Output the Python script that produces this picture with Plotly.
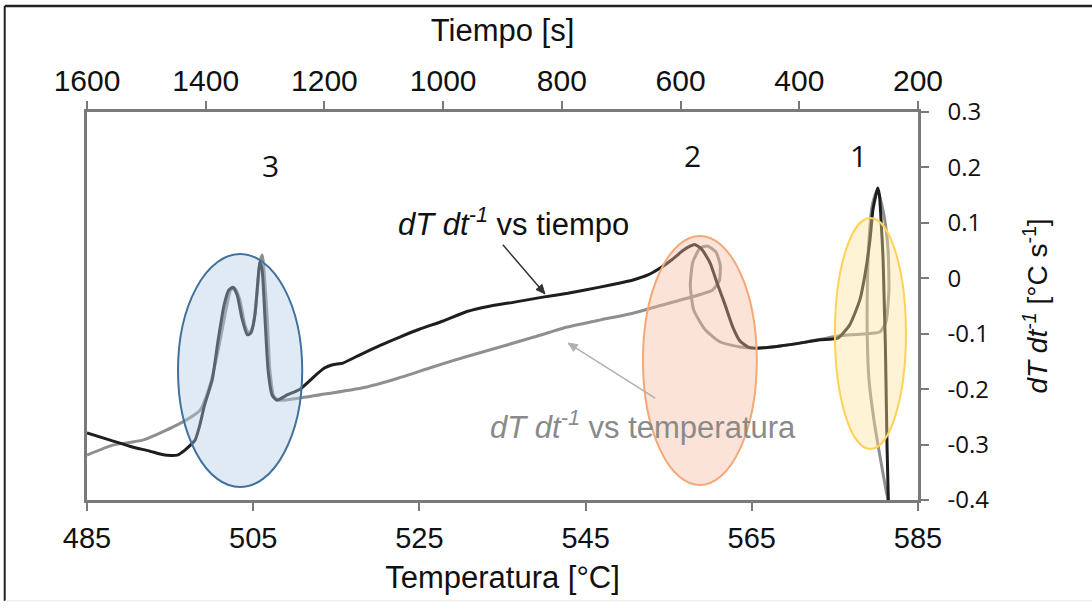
import plotly.graph_objects as go

# dT/dt vs time (s) -- black curve, top axis
time_s = [1600, 1561, 1528, 1494, 1469, 1448, 1435, 1418, 1410, 1402, 1389, 1379, 1369,
          1361, 1354, 1347, 1339, 1330, 1324, 1317, 1312, 1309, 1305, 1300, 1295, 1288,
          1280, 1262, 1241, 1215, 1200, 1186, 1169, 1140, 1106, 1073, 1040, 1000, 960,
          920, 880, 832, 790, 736, 700, 680, 655, 635, 614, 596, 584, 576, 564, 550, 539,
          525, 512, 500, 486, 471, 432, 399, 365, 335, 315, 298, 288, 281, 276, 271, 268,
          265, 262, 259, 257, 255, 254, 252, 250]
rate_time = [-0.279, -0.292, -0.303, -0.312, -0.319, -0.319, -0.310, -0.292, -0.265, -0.229,
             -0.183, -0.111, -0.048, -0.021, -0.016, -0.030, -0.072, -0.102, -0.099, -0.066,
             -0.003, 0.029, 0.015, -0.075, -0.165, -0.211, -0.220, -0.210, -0.200, -0.175,
             -0.162, -0.156, -0.153, -0.138, -0.121, -0.106, -0.092, -0.077, -0.060, -0.050,
             -0.043, -0.034, -0.027, -0.016, -0.008, -0.003, 0.006, 0.018, 0.034, 0.050,
             0.058, 0.061, 0.052, 0.027, -0.007, -0.048, -0.088, -0.113, -0.124, -0.126,
             -0.122, -0.117, -0.111, -0.108, -0.084, -0.039, 0.015, 0.069, 0.123, 0.150,
             0.163, 0.150, 0.100, 0.040, -0.039, -0.120, -0.183, -0.310, -0.400]

# dT/dt vs temperature (°C) -- grey curve, bottom axis
temp_c = [485.0, 488.1, 491.7, 495.8, 498.6, 499.8, 500.8, 501.6, 502.3, 502.8, 503.4, 504.0,
          504.5, 505.0, 505.5, 505.8, 506.1, 506.3, 506.7, 507.0, 507.5, 508.2, 510.6, 514.0,
          518.7, 522.5, 526.6, 530.5, 534.7, 538.8, 542.8, 546.8, 550.7, 554.0, 557.2, 560.3,
          561.1, 561.2, 560.7, 559.7, 558.8, 557.9, 557.6, 558.0, 559.4, 561.2, 563.6, 565.6,
          568.4, 570.8, 575.4, 578.0, 580.4, 581.15, 581.5, 581.4, 580.9, 580.3, 580.0, 579.5,
          579.1, 578.9, 578.9, 579.1, 579.7, 580.4, 581.15, 581.4]
rate_temp = [-0.319, -0.301, -0.292, -0.265, -0.238, -0.193, -0.129, -0.066, -0.021, -0.018,
             -0.039, -0.084, -0.101, -0.084, -0.021, 0.029, 0.042, 0.015, -0.075, -0.165,
             -0.214, -0.220, -0.216, -0.208, -0.196, -0.180, -0.160, -0.142, -0.124, -0.106,
             -0.088, -0.075, -0.063, -0.049, -0.036, -0.021, -0.004, 0.024, 0.047, 0.058,
             0.055, 0.029, -0.013, -0.057, -0.093, -0.115, -0.124, -0.126, -0.122, -0.117,
             -0.104, -0.101, -0.097, -0.079, -0.021, 0.051, 0.114, 0.152, 0.156, 0.132,
             0.069, -0.021, -0.111, -0.183, -0.256, -0.319, -0.382, -0.400]

temp_ticks = [485, 505, 525, 545, 565, 585]
time_ticks = [1600, 1400, 1200, 1000, 800, 600, 400, 200]
rate_ticks = [0.3, 0.2, 0.1, 0, -0.1, -0.2, -0.3, -0.4]
rate_tick_text = ["0.3", "0.2", "0.1", "0", "-0.1", "-0.2", "-0.3", "-0.4"]

AXIS_GREY = "#7a7a7a"
SANS = "Liberation Sans, Arial, sans-serif"
ROUND = "Open Sans, Noto Sans, sans-serif"

fig = go.Figure()

fig.add_trace(go.Scatter(
    x=temp_c, y=rate_temp, xaxis="x", yaxis="y", mode="lines",
    line=dict(color="#8f8f8f", width=3, shape="spline", smoothing=0.5),
    showlegend=False, hoverinfo="skip"))

fig.add_trace(go.Scatter(
    x=time_s, y=rate_time, xaxis="x2", yaxis="y", mode="lines",
    line=dict(color="#1e1e1e", width=3, shape="spline", smoothing=0.5),
    showlegend=False, hoverinfo="skip"))

axis_common = dict(
    showgrid=False, zeroline=False, showline=True, linecolor=AXIS_GREY, linewidth=2.5,
    ticks="outside", ticklen=8, tickwidth=2, tickcolor=AXIS_GREY,
)

fig.update_layout(
    width=1092, height=613,
    margin=dict(l=87, r=174, t=112, b=113),
    paper_bgcolor="white", plot_bgcolor="white",
    xaxis=dict(
        range=[485, 585], tickvals=temp_ticks, ticktext=[str(v) for v in temp_ticks],
        tickfont=dict(family=SANS, size=29, color="#111"), ticklabelstandoff=2,
        title=dict(text="Temperatura [°C]", font=dict(family=SANS, size=31, color="#111"),
                   standoff=14),
        mirror=False, **axis_common),
    xaxis2=dict(
        range=[1600, 200], overlaying="x", side="top", anchor="y",
        tickvals=time_ticks, ticktext=[str(v) for v in time_ticks],
        tickfont=dict(family=SANS, size=30, color="#111"), ticklabelstandoff=-2,
        title=dict(text="Tiempo [s]", font=dict(family=SANS, size=31, color="#111"),
                   standoff=14),
        **axis_common),
    yaxis=dict(
        range=[-0.4, 0.3], side="right", tickvals=rate_ticks, ticktext=rate_tick_text,
        tickfont=dict(family=ROUND, size=24, color="#111"), ticklabelstandoff=14,
        title=dict(text="<i>dT dt<sup>-1</sup></i> [°C s<sup>-1</sup>]",
                   font=dict(family=SANS, size=28, color="#111"), standoff=40),
        mirror=True, **axis_common),
)

# highlighted regions (translucent ellipses drawn over the curves)
regions = [
    dict(x0=495.95, x1=510.9, y0=-0.3766, y1=0.0438,
         fill="rgba(175,202,230,0.4)", line="#41719c"),
    dict(x0=551.9, x1=565.6, y0=-0.373, y1=0.0763,
         fill="rgba(245,187,155,0.4)", line="#f4a878"),
    dict(x0=575.0, x1=583.55, y0=-0.308, y1=0.1088,
         fill="rgba(252,225,147,0.4)", line="#ffd257"),
]
for r in regions:
    fig.add_shape(type="circle", xref="x", yref="y", x0=r["x0"], x1=r["x1"],
                  y0=r["y0"], y1=r["y1"], fillcolor=r["fill"],
                  line=dict(color=r["line"], width=2), layer="above")

# outer frame of the figure
fig.add_shape(type="line", xref="paper", yref="paper", x0=-0.099, x1=1.21, y0=1.273, y1=1.273,
              line=dict(color="#222", width=2.5))
fig.add_shape(type="line", xref="paper", yref="paper", x0=-0.099, x1=-0.099, y0=1.273, y1=-0.26,
              line=dict(color="#222", width=2))
fig.add_shape(type="line", xref="paper", yref="paper", x0=-0.099, x1=1.21, y0=-0.26, y1=-0.26,
              line=dict(color="#e6e6e6", width=1))

# curve labels
fig.add_annotation(x=536.3, y=0.1016, xref="x", yref="y", showarrow=False,
                   text="<i>dT dt<sup>-1</sup></i> vs tiempo",
                   font=dict(family=SANS, size=31, color="#111"))
fig.add_annotation(x=551.9, y=-0.265, xref="x", yref="y", showarrow=False,
                   text="<i>dT dt<sup>-1</sup></i> vs temperatura",
                   font=dict(family=SANS, size=31, color="#8a8a8a"))


def pointer(tip_x, tip_y, dx, dy, color):
    """Leader line with a small filled head, sized in pixels from its tip (dx, dy up-positive)."""
    length = (dx * dx + dy * dy) ** 0.5
    ux, uy = -dx / length, -dy / length
    bx, by = -9 * ux, -9 * uy
    nx, ny = -uy, ux
    head = (f"M0,0 L{bx + 4 * nx:.2f},{by + 4 * ny:.2f} "
            f"L{bx - 4 * nx:.2f},{by - 4 * ny:.2f} Z")
    common = dict(xref="x", yref="y", xsizemode="pixel", ysizemode="pixel",
                  xanchor=tip_x, yanchor=tip_y, layer="above")
    fig.add_shape(type="path", path=f"M0,0 L{dx},{dy}",
                  line=dict(color=color, width=1.5), **common)
    fig.add_shape(type="path", path=head, fillcolor=color,
                  line=dict(color=color, width=1), **common)


pointer(540.1, -0.028, -42, 49, "#333333")
pointer(542.9, -0.117, 87, -55, "#b0b0b0")

# stage numbers
for label, tx, ty in [("3", 507.1, 0.204), ("2", 557.9, 0.222), ("1", 577.8, 0.222)]:
    fig.add_annotation(x=tx, y=ty, xref="x", yref="y", text=label, showarrow=False,
                       font=dict(family=ROUND, size=30, color="#111"))

fig.write_html("out.html")
